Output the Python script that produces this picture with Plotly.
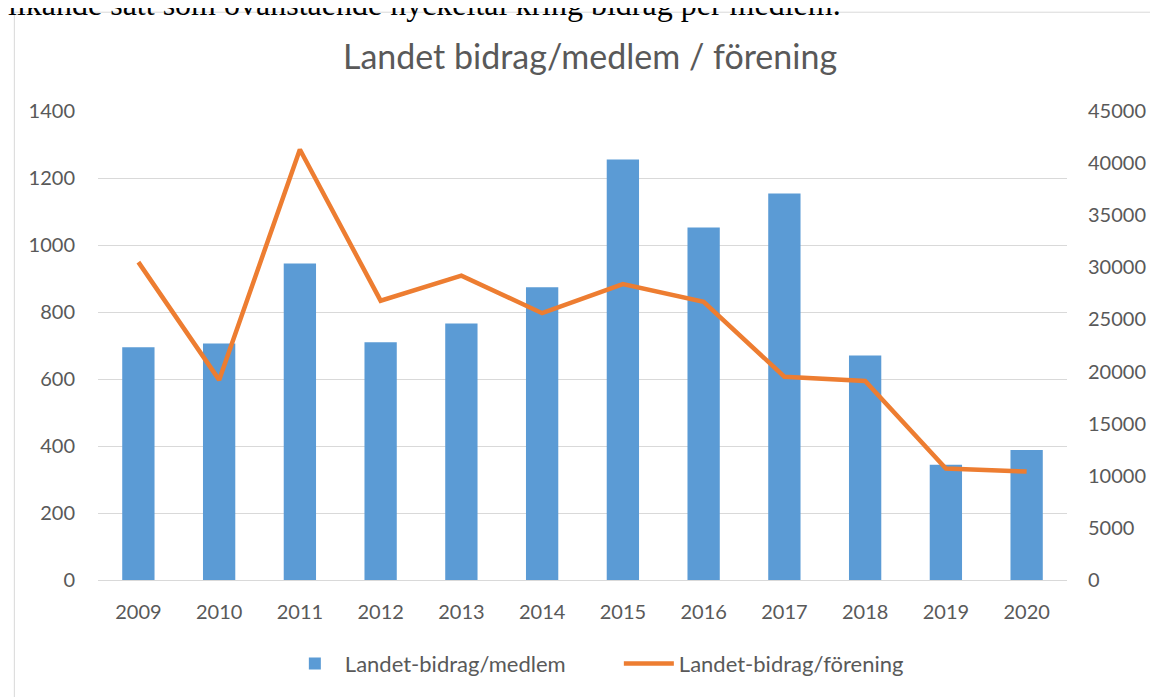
import plotly.graph_objects as go

years = ["2009", "2010", "2011", "2012", "2013", "2014", "2015", "2016", "2017", "2018", "2019", "2020"]
bidrag_medlem = [695, 706, 945, 710, 766, 874, 1255, 1052, 1154, 670, 344, 388]
bidrag_forening = [30500, 19200, 41300, 26800, 29200, 25600, 28400, 26700, 19500, 19100, 10700, 10400]

left_ticks = [0, 200, 400, 600, 800, 1000, 1200, 1400]
right_ticks = [0, 5000, 10000, 15000, 20000, 25000, 30000, 35000, 40000, 45000]
right_labels = [str(v) for v in right_ticks]

FONT = "Lato"
GREY = "#595959"

OFF = 8  # browser body margin
W, H = 1158 - OFF, 697 - OFF
L, R, T, B = 98 - OFF, 87, 111 - OFF, 116
PW, PH = W - L - R, H - T - B

def px_x(x):  # window pixel -> paper
    return (x - OFF - L) / PW

def px_y(y):
    return (H - B - (y - OFF)) / PH

fig = go.Figure()
fig.add_trace(go.Bar(
    x=years, y=bidrag_medlem, name="Landet-bidrag/medlem",
    marker=dict(color="#5b9bd5", line=dict(width=0)),
    yaxis="y",
))
fig.add_trace(go.Scatter(
    x=years, y=bidrag_forening, name="Landet-bidrag/förening",
    mode="lines", line=dict(color="#ed7d31", width=4.5),
    yaxis="y2",
))

fig.update_layout(
    width=W, height=H,
    margin=dict(l=L, r=R, t=T, b=B),
    paper_bgcolor="white", plot_bgcolor="white",
    font=dict(family=FONT, color=GREY, size=20),
    bargap=0.6,
    title=dict(text="Landet bidrag/medlem / förening", font=dict(size=34, color=GREY, family=FONT),
               x=(590 - OFF) / W, xanchor="center", y=1 - (57 - OFF) / H, yanchor="middle"),
    xaxis=dict(type="category", showgrid=False, showline=True, linecolor="#d9d9d9", linewidth=1,
               ticks="", ticklabelstandoff=14, tickfont=dict(size=20, color=GREY)),
    yaxis=dict(range=[0, 1400], tickvals=left_ticks, showgrid=True, gridcolor="#d9d9d9", gridwidth=1,
               zeroline=False, showline=False, ticks="", ticklabelstandoff=22,
               tickfont=dict(size=20, color=GREY)),
    yaxis2=dict(range=[0, 45000], tickvals=right_ticks, ticktext=right_labels, overlaying="y",
                side="right", showgrid=False, zeroline=False, showline=False, ticks="",
                ticklabelstandoff=20, tickfont=dict(size=20, color=GREY)),
    legend=dict(orientation="h", x=px_x(621), xanchor="center", y=px_y(665), yanchor="middle",
                font=dict(size=22, color=GREY), traceorder="normal",
                entrywidth=269, entrywidthmode="pixels", itemwidth=50),
    showlegend=True,
)

fig.add_shape(type="rect", xref="paper", yref="paper",
              x0=px_x(14), x1=px_x(1170), y0=px_y(710), y1=px_y(12),
              line=dict(color="#d9d9d9", width=1), fillcolor="rgba(0,0,0,0)", layer="below")

fig.add_annotation(text="likande sätt som ovanstående nyckeltal kring bidrag per medlem.",
                   xref="paper", yref="paper", x=px_x(6), y=px_y(4), xanchor="left", yanchor="middle",
                   showarrow=False, font=dict(family="Liberation Serif", size=32, color="black"))

fig.write_html("out.html")
